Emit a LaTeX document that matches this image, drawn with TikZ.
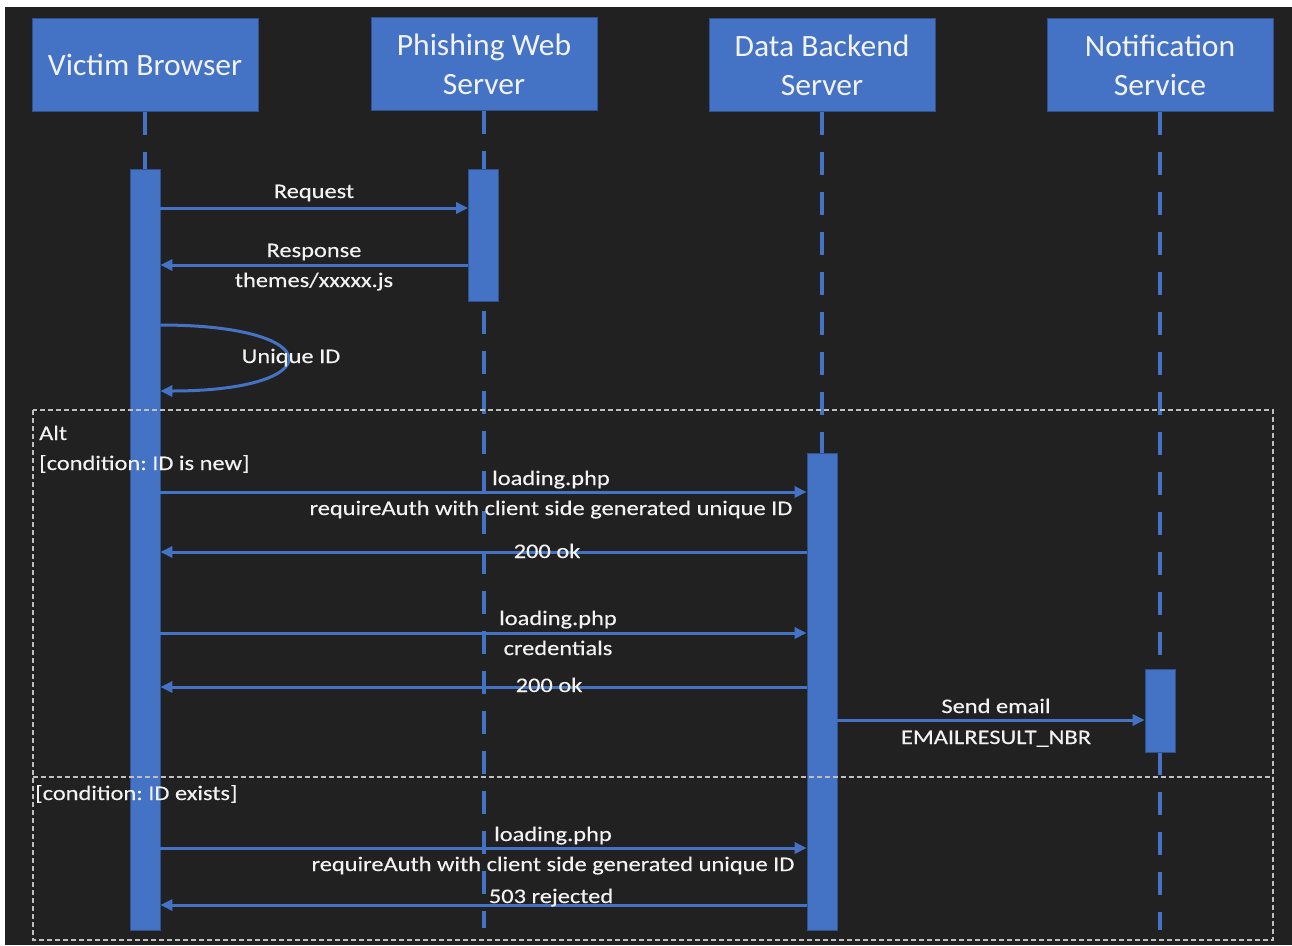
\documentclass[tikz,border=0pt]{standalone}
\usepackage{fontspec}
\setmainfont{Carlito}
\newfontfamily\lblfont{Carlito}[FakeStretch=1.18,FakeBold=0.3]
\newfontfamily\headfont{Carlito}[FakeStretch=1.02]
\usetikzlibrary{arrows.meta}
\definecolor{bg}{HTML}{212121}
\definecolor{ublue}{HTML}{4472C4}
\definecolor{dblue}{HTML}{2F528F}
\definecolor{fgray}{HTML}{BFBFBF}
\definecolor{txt}{HTML}{F2F2F2}
\frenchspacing
\begin{document}
\begin{tikzpicture}[x=1pt,y=-1pt,
  head/.style={rectangle, fill=ublue, draw=dblue, line width=1pt, minimum width=226pt, minimum height=93pt, inner sep=0pt, text=txt, font=\headfont\fontsize{31}{39}\selectfont, align=center},
  actbar/.style={rectangle, fill=ublue, draw=dblue, line width=0.8pt, minimum width=30pt, inner sep=0pt},
  life/.style={draw=ublue, line width=4pt, dash pattern=on 23pt off 17pt},
  msg/.style={draw=ublue, line width=3pt, -{Triangle[length=12pt,width=11pt]}},
  frame/.style={draw=fgray, line width=1.5pt, dash pattern=on 5pt off 3pt},
  lbl/.style={text=txt, font=\lblfont\fontsize{20.7}{24}\selectfont\frenchspacing, anchor=base, inner sep=0pt},
  flbl/.style={lbl, anchor=base west}
]
\useasboundingbox (0,0) rectangle (1292,945);
\fill[white] (0,0) rectangle (1292,945);
\fill[bg] (5,7) rectangle (1292,945);

% headers
\node[head] (vb) at (145,64.5) {Victim Browser};
\node[head] (pw) at (484,64) {Phishing Web\\Server};
\node[head] (db) at (822,65) {Data Backend\\Server};
\node[head] (ns) at (1160,65) {Notification\\Service};

% lifeline ends
\coordinate (vbEnd) at (145,930);
\coordinate (pwEnd) at (484,928);
\coordinate (dbEnd) at (822,930);
\coordinate (nsEnd) at (1160,930);
\draw[life] (vb) -- (vbEnd);
\draw[life] (pw) -- (pwEnd);
\draw[life] (db) -- (dbEnd);
\draw[life] (ns) -- (nsEnd);

% activation bars
\node[actbar, minimum height=761pt] (vbA) at (145,549.5) {};
\node[actbar, minimum height=132pt] (pwA) at (483.5,235) {};
\node[actbar, minimum height=477pt] (dbA) at (822,691.5) {};
\node[actbar, minimum height=83pt] (nsA) at (1160,710.5) {};

% messages
\draw[msg] (vbA.east |- 0,208) -- (pwA.west |- 0,208);
\draw[msg] (pwA.west |- 0,265) -- (vbA.east |- 0,265);
\draw[msg] (vbA.east |- 0,325) .. controls (330,325) and (330,391) .. (vbA.east |- 0,391);
\draw[msg] (vbA.east |- 0,492) -- (dbA.west |- 0,492);
\draw[msg] (dbA.west |- 0,552) -- (vbA.east |- 0,552);
\draw[msg] (vbA.east |- 0,633) -- (dbA.west |- 0,633);
\draw[msg] (dbA.west |- 0,687) -- (vbA.east |- 0,687);
\draw[msg] (dbA.east |- 0,720) -- (nsA.west |- 0,720);
\draw[msg] (vbA.east |- 0,848) -- (dbA.west |- 0,848);
\draw[msg] (dbA.west |- 0,905) -- (vbA.east |- 0,905);

% alt frame
\draw[frame] (33,410) rectangle (1273,940);
\coordinate (divL) at (33,777);
\coordinate (divR) at (1273,777);
\draw[frame] (divL) -- (divR);

% labels
\node[lbl] (t1) at (314,198) {Request};
\node[lbl] (t2) at (314,257) {Response};
\node[lbl] (t3) at (314,287) {themes/xxxxx.js};
\node[lbl] (t4) at (291,363) {Unique ID};
\node[flbl] (f1) at (39,440) {Alt};
\node[flbl] (f2) at (39,470) {[condition: ID is new]};
\node[flbl] (f3) at (35,800) {[condition: ID exists]};
\node[lbl] (t5) at (551,485) {loading.php};
\node[lbl] (t6) at (551,515) {requireAuth with client side generated unique ID};
\node[lbl] (t7) at (547,558) {200 ok};
\node[lbl] (t8) at (558,625) {loading.php};
\node[lbl] (t9) at (558,655) {credentials};
\node[lbl] (t10) at (549,692) {200 ok};
\node[lbl] (t11) at (996,713) {Send email};
\node[lbl] (t12) at (996,744) {EMAILRESULT\_NBR};
\node[lbl] (t13) at (553,841) {loading.php};
\node[lbl] (t14) at (553,871) {requireAuth with client side generated unique ID};
\node[lbl] (t15) at (551,903) {503 rejected};
\end{tikzpicture}
\end{document}
